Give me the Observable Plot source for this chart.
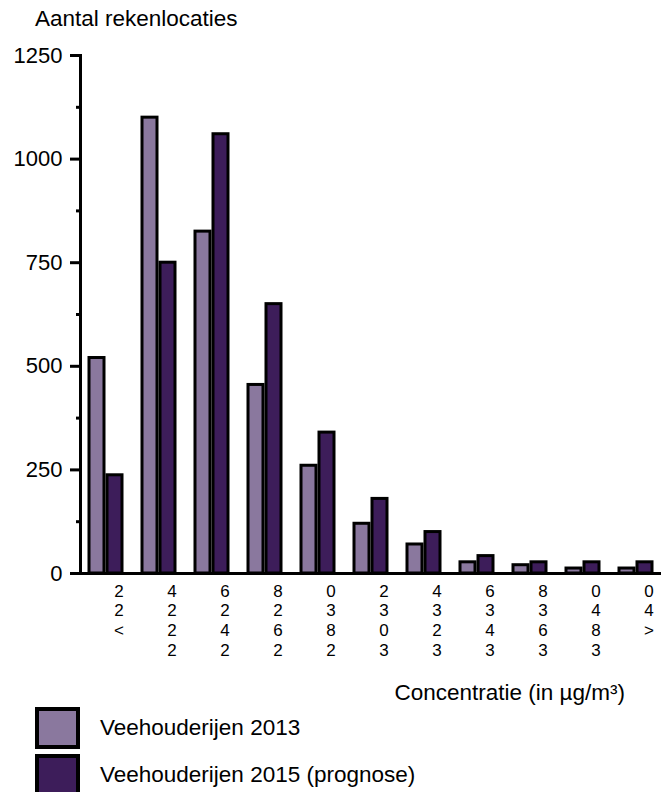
<!DOCTYPE html>
<html>
<head>
<meta charset="utf-8">
<script src="https://cdn.jsdelivr.net/npm/d3@7"></script>
<script src="https://cdn.jsdelivr.net/npm/@observablehq/plot@0.6"></script>
<style>
  html, body { margin: 0; padding: 0; background: #fff; }
  body { width: 663px; height: 792px; overflow: hidden; font-family: "Liberation Sans", Arial, sans-serif; color: #000; }
  #title { height: 40px; line-height: 38px; padding-left: 35px; font-size: 22.5px; box-sizing: border-box; }
  #xlabel { height: 45px; box-sizing: border-box; padding-top: 20px; line-height: 26px; font-size: 22.5px; text-align: right; padding-right: 38px; }
  #legend { position: relative; height: 87px; }
  .row { position: absolute; left: 35px; height: 42px; display: flex; align-items: center; font-size: 22.5px; }
  .sw { width: 45px; height: 42px; box-sizing: border-box; border: 4px solid #000; margin-right: 20px; }
</style>
</head>
<body>
<div id="title">Aantal rekenlocaties</div>
<div id="chart"></div>
<div id="xlabel">Concentratie (in µg/m³)</div>
<div id="legend"></div>
<script>
const categories = ["<22", "22-24", "24-26", "26-28", "28-30", "30-32", "32-34", "34-36", "36-38", "38-40", ">40"];
const seriesNames = ["Veehouderijen 2013", "Veehouderijen 2015 (prognose)"];
const values2013 = [520, 1100, 825, 455, 260, 120, 70, 27, 20, 12, 12];
const values2015 = [237, 750, 1060, 650, 340, 180, 100, 42, 27, 27, 27];
const seriesColors = ["#8a789e", "#3d1d5a"];
const yTicks = [0, 250, 500, 750, 1000, 1250];
const yMinorTicks = [125, 375, 625, 875, 1125];

const data2013 = categories.map((c, i) => ({cat: c, value: values2013[i]}));
const data2015 = categories.map((c, i) => ({cat: c, value: values2015[i]}));

// labels are drawn as stacked characters, read from bottom to top
const stackLabel = (s) => s.replace(/-/g, "").split("").reverse().join("\n");

const font = "'Liberation Sans', Arial, sans-serif";

const chart = Plot.plot({
  width: 663,
  height: 620,
  marginTop: 15,
  marginBottom: 87,
  marginLeft: 80,
  marginRight: 2,
  style: {fontFamily: font, fontSize: "22.5px", color: "#000", background: "#fff", overflow: "visible"},
  x: {domain: categories, paddingInner: 0.37, paddingOuter: 0.065, axis: null},
  y: {domain: [0, 1250], axis: null},
  marks: [
    Plot.barY(data2013, {x: "cat", y: "value", fill: seriesColors[0], stroke: "#000", strokeWidth: 3, insetRight: 18}),
    Plot.barY(data2015, {x: "cat", y: "value", fill: seriesColors[1], stroke: "#000", strokeWidth: 3, insetLeft: 18}),
    Plot.axisY({ticks: yTicks, tickSize: 10, tickPadding: 8, strokeWidth: 3, label: null, fontSize: 22, tickFormat: (d) => String(d)}),
    Plot.axisY({ticks: yMinorTicks, tickSize: 4, strokeWidth: 3, tickFormat: () => "", label: null}),
    Plot.frame({anchor: "left", strokeWidth: 3}),
    Plot.ruleY([0], {strokeWidth: 3}),
    Plot.axisX({tickSize: 0, tickPadding: 9, tickFormat: stackLabel, lineHeight: 1.16, dx: 13, label: null, fontSize: 17})
  ]
});
document.getElementById("chart").appendChild(chart);

const legend = document.getElementById("legend");
seriesNames.forEach((name, i) => {
  const row = document.createElement("div");
  row.className = "row";
  row.style.top = (2 + i * 47) + "px";
  const sw = document.createElement("div");
  sw.className = "sw";
  sw.style.background = seriesColors[i];
  const label = document.createElement("span");
  label.textContent = name;
  row.appendChild(sw);
  row.appendChild(label);
  legend.appendChild(row);
});
</script>
</body>
</html>
